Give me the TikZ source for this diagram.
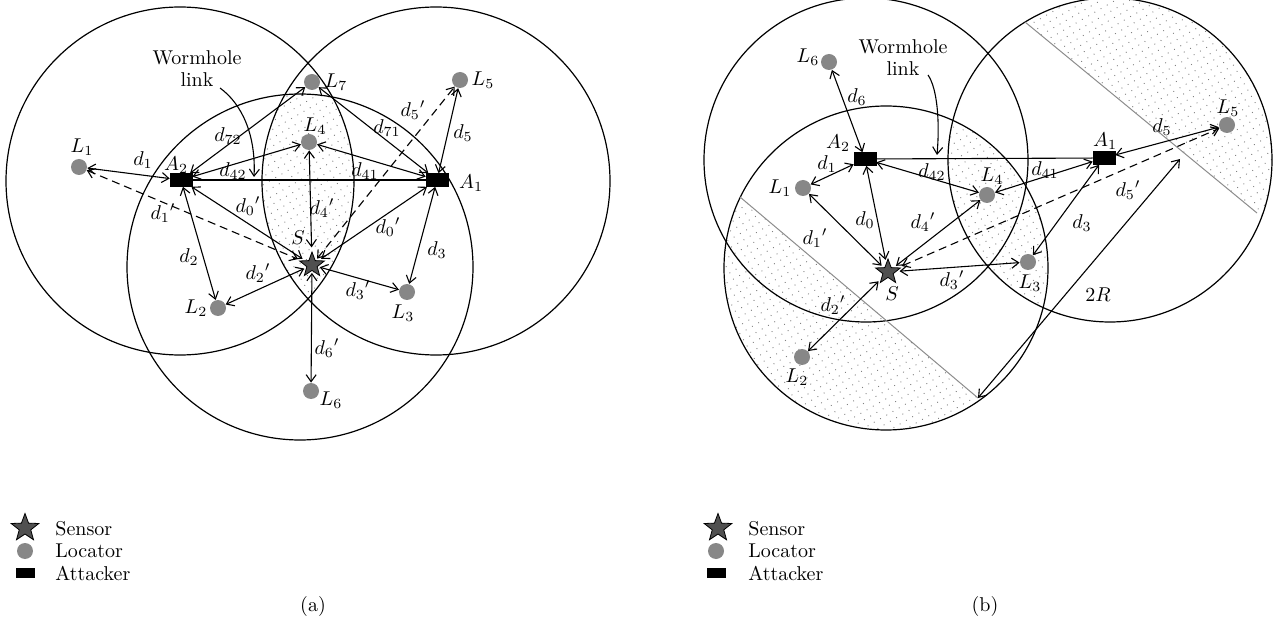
\documentclass[tikz,border=0pt]{standalone}
\usetikzlibrary{arrows.meta,shapes.geometric,patterns.meta}
\definecolor{locgray}{RGB}{135,135,135}
\definecolor{stargray}{RGB}{80,80,80}
\definecolor{dotgray}{RGB}{130,130,130}
\definecolor{chordgray}{RGB}{140,140,140}
\tikzset{
  loc/.style={circle, fill=locgray, draw=none, minimum size=8pt, inner sep=0pt},
  att/.style={rectangle, fill=black, draw=black, line width=0.3pt, minimum width=11pt, minimum height=6.5pt, inner sep=0pt},
  sens/.style={star, star points=5, star point ratio=2.4, fill=stargray, draw=black, line width=0.4pt, minimum size=13pt, inner sep=0pt, outer sep=1pt},
  lbl/.style={inner sep=0pt, font=\fontsize{10}{11}\selectfont},
  lnk/.style={<->, line width=0.55pt},
  dlnk/.style={<->, line width=0.55pt, dash pattern=on 4pt off 2.5pt},
  rng/.style={draw, line width=0.6pt},
  dotfill/.style={pattern={Dots[distance=3.6pt, radius=0.33pt, angle=30]}, pattern color=dotgray},
  chord/.style={draw=chordgray, line width=0.5pt},
  curvearrow/.style={->, line width=0.55pt},
}
\begin{document}
\begin{tikzpicture}[x=0.5pt,y=-0.5pt,>={Straight Barb[length=3.5pt,width=5pt]}]
\useasboundingbox (0,0) rectangle (1280,636);

% ================= (a) =================
\begin{scope}
  \clip (180,181) circle[radius=87pt];
  \clip (436,181) circle[radius=87pt];
  \fill[dotfill] (300,267) circle[radius=86.5pt];
\end{scope}
\draw[rng] (180,181) circle[radius=87pt];
\draw[rng] (436,181) circle[radius=87pt];
\draw[rng] (300,267) circle[radius=86.5pt];

\node[loc] (aL1) at (79,167) {};
\node[att] (aA2) at (181,180) {};
\node[loc] (aL7) at (312,82) {};
\node[loc] (aL5) at (460,80) {};
\node[loc] (aL4) at (309,142) {};
\node[att] (aA1) at (437,180) {};
\node[sens] (aS) at (312,265) {};
\node[loc] (aL2) at (218,308) {};
\node[loc] (aL3) at (407,292) {};
\node[loc] (aL6) at (311,391) {};

\draw[line width=0.55pt] (aA2) -- (aA1);
\draw[lnk] (aL1) -- (aA2);
\draw[dlnk] (aL1) -- (aS);
\draw[lnk] (aA2) -- (aL7);
\draw[lnk] (aA2) -- (aL4);
\draw[lnk] (aA2) -- (aS);
\draw[lnk] (aA2) -- (aL2);
\draw[lnk] (aS) -- (aL2);
\draw[lnk] (aS) -- (aL4);
\draw[dlnk] (aS) -- (aL5);
\draw[lnk] (aS) -- (aA1);
\draw[lnk] (aS) -- (aL3);
\draw[lnk] (aS) -- (aL6);
\draw[lnk] (aA1) -- (aL3);
\draw[lnk] (aA1) -- (aL5);
\draw[lnk] (aA1) -- (aL4);
\draw[lnk] (aA1) -- (aL7);

\node[lbl, align=center] (aWorm) at (197,69) {Wormhole\\link};
\coordinate (aWs) at (220,88);
\coordinate (aWe) at (254,177);
\draw[curvearrow] (aWs) .. controls (242,104) and (256,135) .. (aWe);

\node[lbl] (alL1) at (82,147) {$L_1$};
\node[lbl] (alA2) at (176,165) {$A_2$};
\node[lbl] (alL7) at (336,82) {$L_7$};
\node[lbl] (alL5) at (483,80) {$L_5$};
\node[lbl] (alL4) at (315,126) {$L_4$};
\node[lbl] (alA1) at (471,183) {$A_1$};
\node[lbl] (alS) at (298,238) {$S$};
\node[lbl] (alL2) at (196,308) {$L_2$};
\node[lbl] (alL3) at (403,313) {$L_3$};
\node[lbl] (alL6) at (331,400) {$L_6$};

\node[lbl] (ad1) at (143,160) {$d_1$};
\node[lbl] (ad1p) at (163,213) {$d_1{}'$};
\node[lbl] (ad72) at (228,136) {$d_{72}$};
\node[lbl] (ad42) at (233,171) {$d_{42}$};
\node[lbl] (ad0pl) at (248,206) {$d_0{}'$};
\node[lbl] (ad2) at (189,257) {$d_2$};
\node[lbl] (ad2p) at (258,273) {$d_2{}'$};
\node[lbl] (ad4p) at (322,208) {$d_4{}'$};
\node[lbl] (ad5p) at (413,110) {$d_5{}'$};
\node[lbl] (ad71) at (387,128) {$d_{71}$};
\node[lbl] (ad41) at (365,171) {$d_{41}$};
\node[lbl] (ad0pr) at (388,227) {$d_0{}'$};
\node[lbl] (ad5) at (463,133) {$d_5$};
\node[lbl] (ad3) at (437,250) {$d_3$};
\node[lbl] (ad3p) at (358,290) {$d_3{}'$};
\node[lbl] (ad6p) at (327,348) {$d_6{}'$};

% legend (a)
\node[sens, minimum size=14.5pt] (aLegS) at (25,528) {};
\node[loc] (aLegL) at (25,551) {};
\node[att, minimum width=9pt, minimum height=4.5pt] (aLegA) at (25,573) {};
\node[lbl, anchor=west] (aLegSt) at (55,529) {Sensor};
\node[lbl, anchor=west] (aLegLt) at (55,551) {Locator};
\node[lbl, anchor=west] (aLegAt) at (55,573) {Attacker};
\node[lbl] (acap) at (313,606) {(a)};

% ================= (b) =================
\begin{scope}
  \clip (1110,160) circle[radius=81pt];
  \fill[dotfill] (886,268) circle[radius=81pt];
\end{scope}
\begin{scope}
  \clip (1110,160) circle[radius=81pt];
  \fill[dotfill] (793,-169) -- (1489,404) -- (1745,97) -- (1049,-476) -- cycle;
\end{scope}
\begin{scope}
  \clip (886,268) circle[radius=81pt];
  \fill[dotfill] (502,-4) -- (1216,599) -- (960,906) -- (246,303) -- cycle;
\end{scope}
\draw[rng] (866,160) circle[radius=81pt];
\draw[rng] (886,268) circle[radius=81pt];
\draw[rng] (1110,160) circle[radius=81pt];
\coordinate (bP1) at (1025,22);
\coordinate (bP2) at (1257,213);
\coordinate (bQ1) at (740,197);
\coordinate (bQ2) at (978,398);
\coordinate (bT) at (1180,159);
\draw[chord] (bP1) -- (bP2);
\draw[chord] (bQ1) -- (bQ2);

\node[loc] (bL6) at (829,62) {};
\node[att] (bA2) at (865,159) {};
\node[loc] (bL1) at (803,188) {};
\node[loc] (bL4) at (987,195) {};
\node[att] (bA1) at (1104,158) {};
\node[loc] (bL3) at (1028,262) {};
\node[sens] (bS) at (888,272) {};
\node[loc] (bL5) at (1227,125) {};
\node[loc] (bL2) at (802,357) {};

\draw[line width=0.55pt] (bA2) -- (bA1);
\draw[lnk] (bL6) -- (bA2);
\draw[lnk] (bL1) -- (bA2);
\draw[lnk] (bA2) -- (bL4);
\draw[lnk] (bA2) -- (bS);
\draw[lnk] (bL1) -- (bS);
\draw[lnk] (bS) -- (bL4);
\draw[dlnk] (bS) -- (bL5);
\draw[lnk] (bS) -- (bL3);
\draw[lnk] (bS) -- (bL2);
\draw[lnk] (bA1) -- (bL3);
\draw[lnk] (bA1) -- (bL4);
\draw[lnk] (bA1) -- (bL5);
\draw[lnk] (bQ2) -- (bT);

\node[lbl, align=center] (bWorm) at (903,58) {Wormhole\\link};
\coordinate (bWs) at (928,75);
\coordinate (bWe) at (937,155);
\draw[curvearrow] (bWs) .. controls (937,88) and (940,120) .. (bWe);

\node[lbl] (blL6) at (808,57) {$L_6$};
\node[lbl] (blA2) at (838,143) {$A_2$};
\node[lbl] (blL1) at (780,188) {$L_1$};
\node[lbl] (blL4) at (992,176) {$L_4$};
\node[lbl] (blA1) at (1105,141) {$A_1$};
\node[lbl] (blL3) at (1030,283) {$L_3$};
\node[lbl] (blS) at (892,294) {$S$};
\node[lbl] (blL5) at (1228,108) {$L_5$};
\node[lbl] (blL2) at (797,377) {$L_2$};

\node[lbl] (bd6) at (857,97) {$d_6$};
\node[lbl] (bd1) at (827,164) {$d_1$};
\node[lbl] (bd42) at (932,172) {$d_{42}$};
\node[lbl] (bd41) at (1045,170) {$d_{41}$};
\node[lbl] (bd0) at (865,220) {$d_0$};
\node[lbl] (bd4p) at (923,222) {$d_4{}'$};
\node[lbl] (bd3p) at (952,280) {$d_3{}'$};
\node[lbl] (bd3) at (1082,223) {$d_3$};
\node[lbl] (bd5p) at (1128,190) {$d_5{}'$};
\node[lbl] (bd5) at (1162,127) {$d_5$};
\node[lbl] (bd1p) at (815,238) {$d_1{}'$};
\node[lbl] (bd2p) at (833,305) {$d_2{}'$};
\node[lbl] (b2R) at (1098,295) {$2R$};

% legend (b)
\node[sens, minimum size=14.5pt] (bLegS) at (718,528) {};
\node[loc] (bLegL) at (716,551) {};
\node[att, minimum width=9pt, minimum height=4.5pt] (bLegA) at (716,573) {};
\node[lbl, anchor=west] (bLegSt) at (748,529) {Sensor};
\node[lbl, anchor=west] (bLegLt) at (748,551) {Locator};
\node[lbl, anchor=west] (bLegAt) at (748,573) {Attacker};
\node[lbl] (bcap) at (985,606) {(b)};
\end{tikzpicture}
\end{document}
